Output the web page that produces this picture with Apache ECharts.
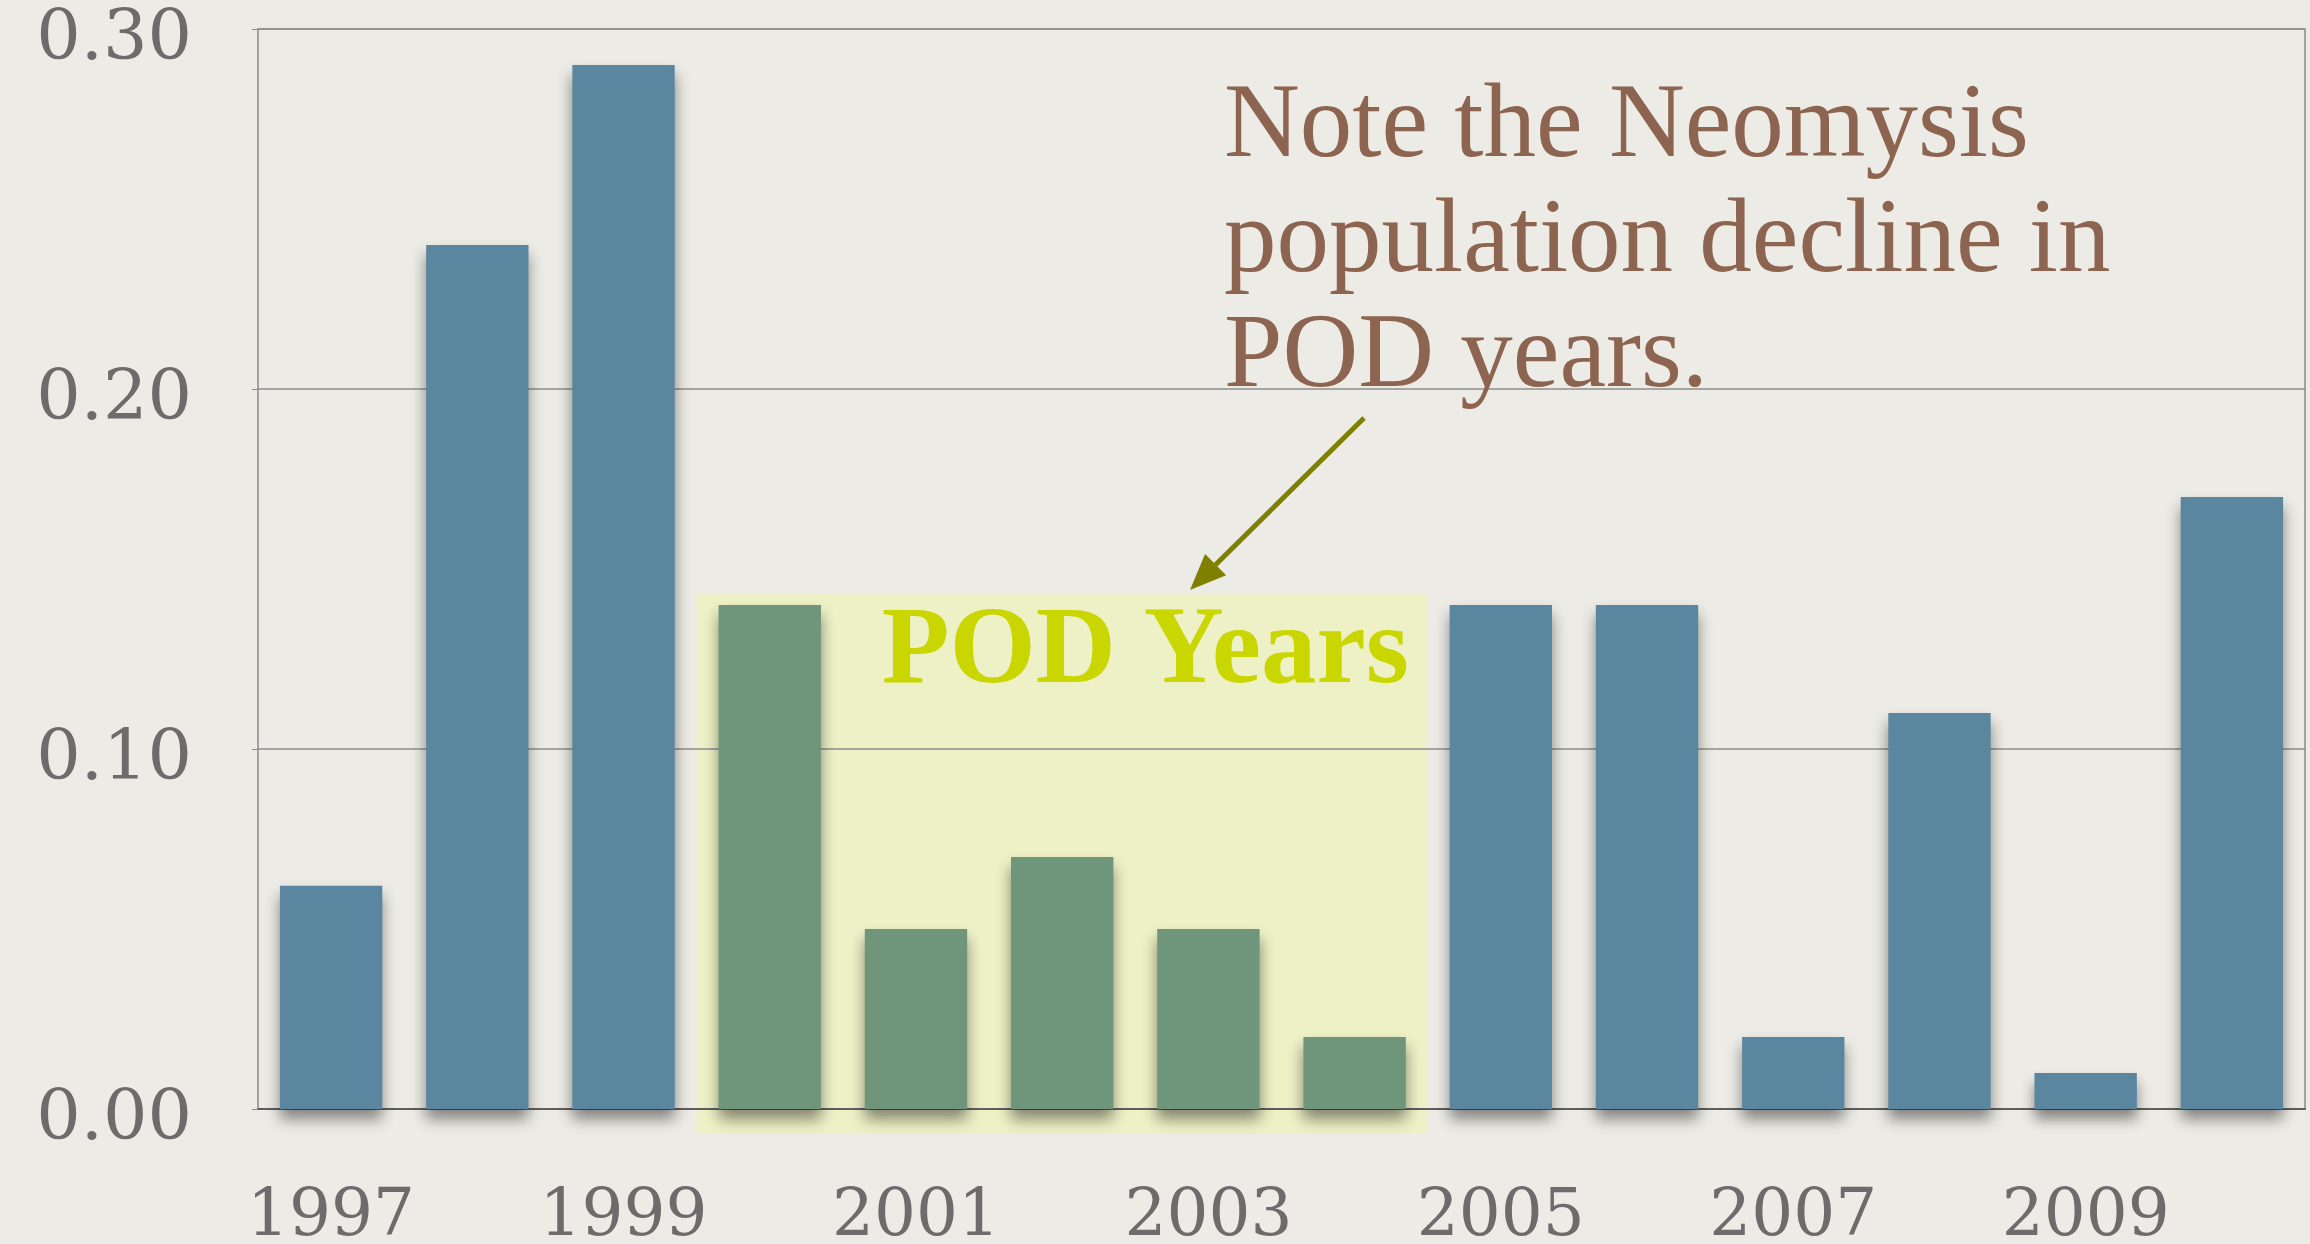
<!DOCTYPE html>
<html>
<head>
<meta charset="utf-8">
<style>
  html, body { margin: 0; padding: 0; background: #ecebe5; }
  #chart { width: 2310px; height: 1244px; }
</style>
<script src="https://cdn.jsdelivr.net/npm/echarts@6/dist/echarts.min.js"></script>
</head>
<body>
<div id="chart"></div>
<script>
  // data
  const years = ['1997', '1998', '1999', '2000', '2001', '2002', '2003',
    '2004', '2005', '2006', '2007', '2008', '2009', '2010']
  const density = [0.062, 0.24, 0.29, 0.14, 0.05, 0.07, 0.05,
    0.02, 0.14, 0.14, 0.02, 0.11, 0.01, 0.17]
  const podYears = ['2000', '2001', '2002', '2003', '2004']
  const yTicks = [0, 0.1, 0.2, 0.3]

  const podBandTop = 0.143 // top of the yellow band, in axis units
  const blue = '#5b86a0'
  const green = '#6f957b'
  const labelFont = 'DejaVu Serif'

  const chartDom = document.getElementById('chart')
  const chart = echarts.init(chartDom)

  chart.setOption({
    backgroundColor: '#ecebe5',
    animation: false,
    grid: {
      left: 258,
      top: 29,
      right: 5,
      bottom: 135,
      outerBoundsMode: 'none',
      containLabel: false,
      show: true,
      borderColor: '#8a8a8a',
      borderWidth: 1.5,
      backgroundColor: 'transparent',
    },
    xAxis: {
      type: 'category',
      data: years,
      axisLine: { lineStyle: { color: '#5e5e5e', width: 2 } },
      axisTick: { show: false },
      axisLabel: {
        interval: 1,
        margin: 76,
        fontFamily: labelFont,
        fontSize: 66,
        color: '#6c6c6c',
      },
    },
    yAxis: {
      type: 'value',
      min: yTicks[0],
      max: yTicks[yTicks.length - 1],
      interval: 0.1,
      axisLine: { show: false },
      axisTick: { show: true, length: 6, lineStyle: { color: '#8a8a8a' } },
      splitLine: { lineStyle: { color: '#8e8e8e', width: 1.5 } },
      axisLabel: {
        margin: 66,
        fontFamily: labelFont,
        fontSize: 70,
        color: '#6c6c6c',
        verticalAlign: 'top',
        lineHeight: 24,
        formatter: (v) => v.toFixed(2),
      },
    },
    series: [
      {
        type: 'bar',
        barCategoryGap: '30%',
        data: density.map((v, i) => ({
          value: v,
          itemStyle: { color: podYears.includes(years[i]) ? green : blue },
        })),
        itemStyle: {
          shadowColor: 'rgba(0,0,0,0.45)',
          shadowBlur: 14,
          shadowOffsetY: 10,
        },
      },
    ],
  })

  // yellow band behind the POD years, placed from the axes
  const first = podYears[0]
  const last = podYears[podYears.length - 1]
  const step = chart.convertToPixel({ xAxisIndex: 0 }, years[1]) - chart.convertToPixel({ xAxisIndex: 0 }, years[0])
  const bandX0 = chart.convertToPixel({ xAxisIndex: 0 }, first) - step / 2
  const bandX1 = chart.convertToPixel({ xAxisIndex: 0 }, last) + step / 2
  const bandY0 = chart.convertToPixel({ yAxisIndex: 0 }, podBandTop)
  const bandY1 = chart.convertToPixel({ yAxisIndex: 0 }, 0) + 25

  // arrow from the note down to the band
  const arrowFrom = [1364, 418]
  const arrowTo = [1190, 590]
  const ang = Math.atan2(arrowTo[1] - arrowFrom[1], arrowTo[0] - arrowFrom[0])
  const headLen = 36
  const headHalf = 15
  const baseX = arrowTo[0] - headLen * Math.cos(ang)
  const baseY = arrowTo[1] - headLen * Math.sin(ang)
  const head = [
    arrowTo,
    [baseX + headHalf * Math.sin(ang), baseY - headHalf * Math.cos(ang)],
    [baseX - headHalf * Math.sin(ang), baseY + headHalf * Math.cos(ang)],
  ]

  chart.setOption({
    graphic: [
      {
        type: 'rect',
        z: -1,
        silent: true,
        shape: { x: bandX0, y: bandY0, width: bandX1 - bandX0, height: bandY1 - bandY0 },
        style: { fill: '#eef0c6' },
      },
      {
        type: 'text',
        z: 10,
        left: bandX1 - 546,
        top: bandY0 + 4,
        style: {
          text: 'POD Years',
          font: 'bold 111px "Liberation Serif"',
          fill: '#c9d600',
        },
      },
      {
        type: 'text',
        z: 10,
        left: 1224,
        top: 71,
        style: {
          text: 'Note the Neomysis\npopulation decline in\nPOD years.',
          font: '105px "Liberation Serif"',
          lineHeight: 115,
          fill: '#8c6450',
        },
      },
      {
        type: 'line',
        z: 10,
        shape: { x1: arrowFrom[0], y1: arrowFrom[1], x2: baseX, y2: baseY },
        style: { stroke: '#7f8000', lineWidth: 5 },
      },
      {
        type: 'polygon',
        z: 10,
        shape: { points: head },
        style: { fill: '#7f8000' },
      },
    ],
  })

  window.addEventListener('resize', () => chart.resize())
</script>
</body>
</html>
